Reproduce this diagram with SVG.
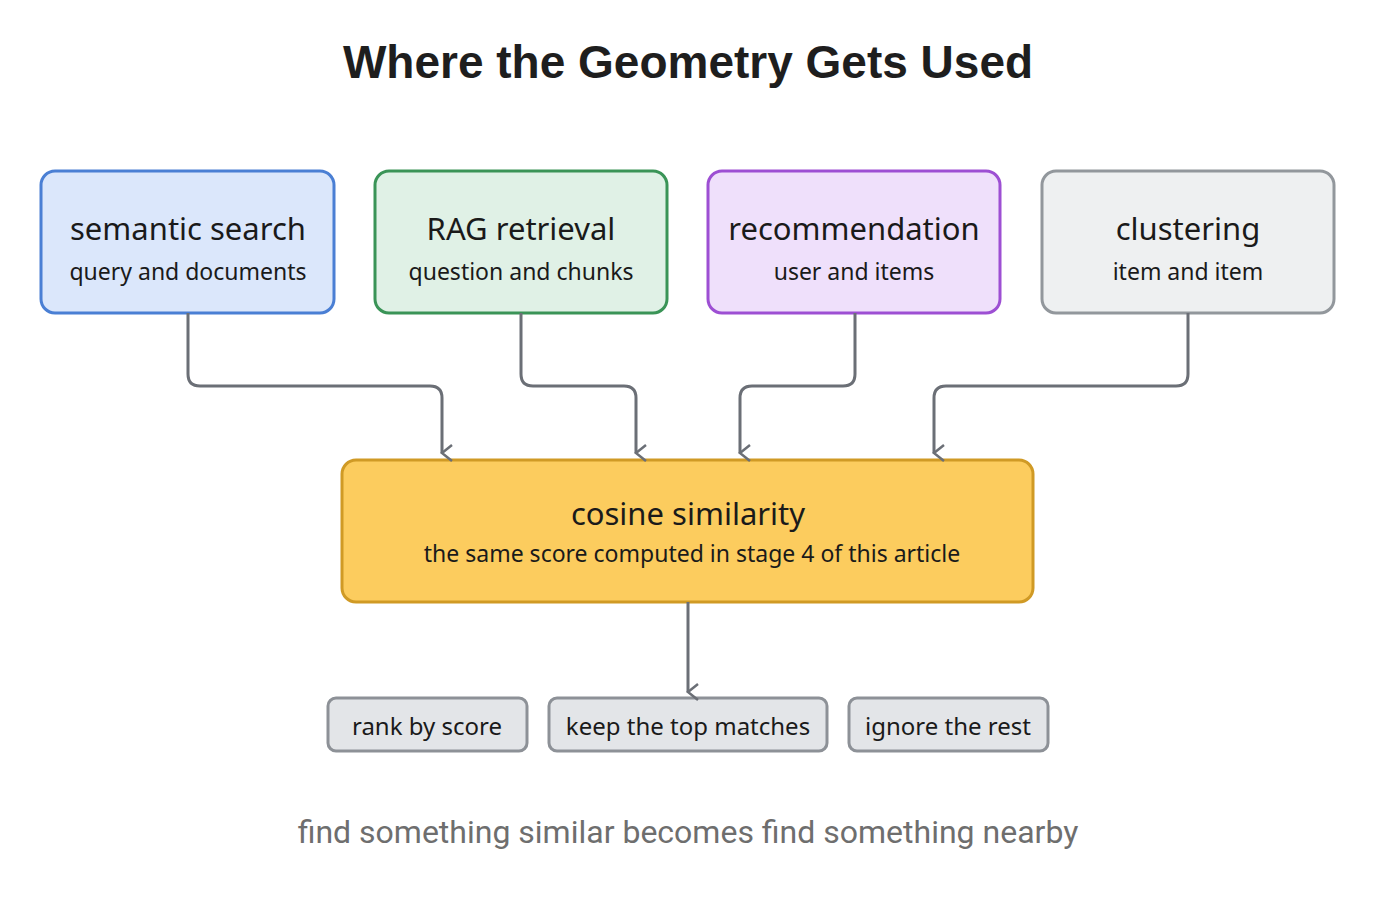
<svg xmlns="http://www.w3.org/2000/svg" width="1376" height="899" viewBox="0 0 1376 899">
<defs>
<marker id="ah" viewBox="0 0 20 20" refX="10" refY="16" markerWidth="20" markerHeight="20" markerUnits="userSpaceOnUse" orient="auto-start-reverse">
<path d="M2 6 L10 16 L18 6" fill="none" stroke="#6b6f76" stroke-width="2.5"/>
</marker>
</defs>
<style>
text{font-family:"Noto Sans","Open Sans",sans-serif;fill:#1a1a1a;text-anchor:middle}
.t{font-size:31px}
.s{font-size:23px}
.c{fill:none;stroke:#6b6f76;stroke-width:3}
.sm{fill:#e3e5e8;stroke:#8d9197;stroke-width:3}
.sl{font-size:24px}
</style>
<rect width="1376" height="899" fill="#ffffff"/>
<text x="688" y="78" style="font-family:'Liberation Sans',Arial,sans-serif;font-weight:bold;font-size:46px;fill:#1e1e1e">Where the Geometry Gets Used</text>
<g id="n1"><rect x="41" y="171" width="293" height="142" rx="14" fill="#dbe7fb" stroke="#4a7fd4" stroke-width="3"/><text class="t" x="188" y="240">semantic search</text><text class="s" x="188" y="280">query and documents</text></g>
<g id="n2"><rect x="375" y="171" width="292" height="142" rx="14" fill="#e0f1e6" stroke="#3a9457" stroke-width="3"/><text class="t" x="521" y="240">RAG retrieval</text><text class="s" x="521" y="280">question and chunks</text></g>
<g id="n3"><rect x="708" y="171" width="292" height="142" rx="14" fill="#efe0fb" stroke="#9d4fd3" stroke-width="3"/><text class="t" x="854" y="240">recommendation</text><text class="s" x="854" y="280">user and items</text></g>
<g id="n4"><rect x="1042" y="171" width="292" height="142" rx="14" fill="#eef0f1" stroke="#92979c" stroke-width="3"/><text class="t" x="1188" y="240">clustering</text><text class="s" x="1188" y="280">item and item</text></g>
<g id="n5"><rect x="342" y="460" width="691" height="142" rx="14" fill="#fccc5e" stroke="#d09a25" stroke-width="3"/><text class="t" x="688" y="525">cosine similarity</text><text class="s" x="692" y="562">the same score computed in stage 4 of this article</text></g>
<g id="n6"><rect class="sm" x="328" y="698" width="199" height="53" rx="8"/><text class="sl" x="427" y="735">rank by score</text></g>
<g id="n7"><rect class="sm" x="549" y="698" width="278" height="53" rx="8"/><text class="sl" x="688" y="735">keep the top matches</text></g>
<g id="n8"><rect class="sm" x="849" y="698" width="199" height="53" rx="8"/><text class="sl" x="948" y="735">ignore the rest</text></g>
<g id="connectors">
<path class="c" marker-end="url(#ah)" d="M188 313 V374 Q188 386 200 386 H430 Q442 386 442 398 V453"/>
<path class="c" marker-end="url(#ah)" d="M521 313 V374 Q521 386 533 386 H624 Q636 386 636 398 V453"/>
<path class="c" marker-end="url(#ah)" d="M855 313 V374 Q855 386 843 386 H752 Q740 386 740 398 V453"/>
<path class="c" marker-end="url(#ah)" d="M1188 313 V374 Q1188 386 1176 386 H946 Q934 386 934 398 V453"/>
<path class="c" marker-end="url(#ah)" d="M688 602 V692"/>
</g>
<text x="688" y="843" style="font-size:32px;fill:#6e6e6e;font-family:'Roboto','Noto Sans',sans-serif">find something similar becomes find something nearby</text>
</svg>
